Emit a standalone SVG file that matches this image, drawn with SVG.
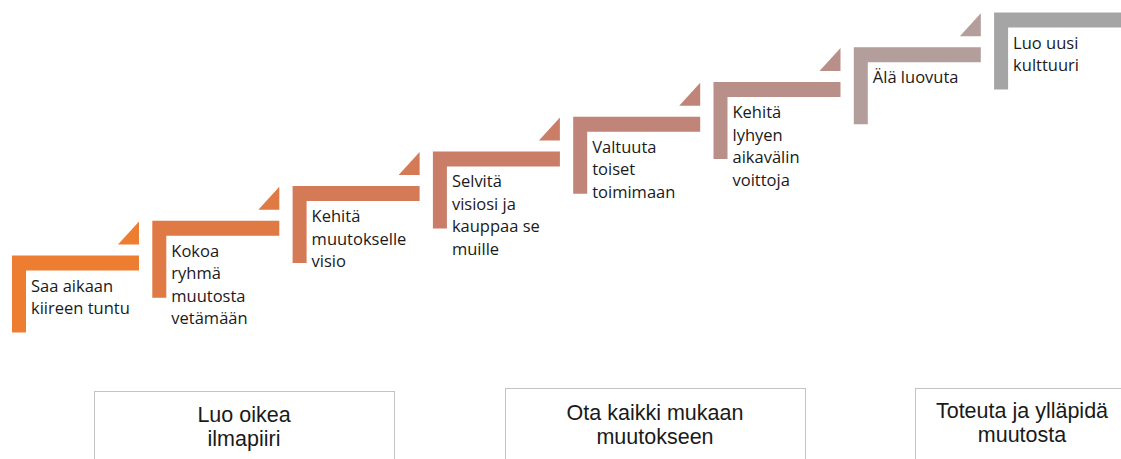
<svg xmlns="http://www.w3.org/2000/svg" xmlns:xlink="http://www.w3.org/1999/xlink" width="1121" height="459" viewBox="0 0 1121 459">
  <style>
    .step-label { font-family: "Open Sans", "Liberation Sans", sans-serif; font-size: 16.5px; fill: #1a1a1a; }
    .phase-box { fill: #ffffff; stroke: #c4c4c4; stroke-width: 1; }
    .phase-label { font-family: "Liberation Sans", Arial, sans-serif; font-size: 21.5px; fill: #1a1a1a; text-anchor: middle; }
  </style>
  <defs>
    <!-- L-shaped stair step: horizontal tread with a vertical riser on the left -->
    <path id="step" d="M0,0 H127 V15 H14 V77 H0 Z"/>
    <!-- small corner triangle pointing up to the next step -->
    <path id="notch" d="M106,-11 H127 V-34 Z"/>
  </defs>

  <rect width="1121" height="459" fill="#ffffff"/>

  <!-- staircase -->
  <g id="step1" transform="translate(12,255.5)" fill="#ed7d31">
    <use xlink:href="#step"/><use xlink:href="#notch"/>
    <text class="step-label" x="19" y="36">Saa aikaan</text>
    <text class="step-label" x="19" y="58.5">kiireen tuntu</text>
  </g>
  <g id="step2" transform="translate(152.3,220.8)" fill="#e07a44">
    <use xlink:href="#step"/><use xlink:href="#notch"/>
    <text class="step-label" x="19" y="36">Kokoa</text>
    <text class="step-label" x="19" y="58.5">ryhmä</text>
    <text class="step-label" x="19" y="81">muutosta</text>
    <text class="step-label" x="19" y="103.5">vetämään</text>
  </g>
  <g id="step3" transform="translate(292.6,186.1)" fill="#d57a56">
    <use xlink:href="#step"/><use xlink:href="#notch"/>
    <text class="step-label" x="19" y="36">Kehitä</text>
    <text class="step-label" x="19" y="58.5">muutokselle</text>
    <text class="step-label" x="19" y="81">visio</text>
  </g>
  <g id="step4" transform="translate(432.9,151.4)" fill="#ca7e68">
    <use xlink:href="#step"/><use xlink:href="#notch"/>
    <text class="step-label" x="19" y="36">Selvitä</text>
    <text class="step-label" x="19" y="58.5">visiosi ja</text>
    <text class="step-label" x="19" y="81">kauppaa  se</text>
    <text class="step-label" x="19" y="103.5">muille</text>
  </g>
  <g id="step5" transform="translate(573.2,116.7)" fill="#c08478">
    <use xlink:href="#step"/><use xlink:href="#notch"/>
    <text class="step-label" x="19" y="36">Valtuuta</text>
    <text class="step-label" x="19" y="58.5">toiset</text>
    <text class="step-label" x="19" y="81">toimimaan</text>
  </g>
  <g id="step6" transform="translate(713.5,82)" fill="#b98f89">
    <use xlink:href="#step"/><use xlink:href="#notch"/>
    <text class="step-label" x="19" y="36">Kehitä</text>
    <text class="step-label" x="19" y="58.5">lyhyen</text>
    <text class="step-label" x="19" y="81">aikavälin</text>
    <text class="step-label" x="19" y="103.5">voittoja</text>
  </g>
  <g id="step7" transform="translate(853.8,47.3)" fill="#b39e9c">
    <use xlink:href="#step"/><use xlink:href="#notch"/>
    <text class="step-label" x="19" y="36">Älä luovuta</text>
  </g>
  <g id="step8" transform="translate(994.1,12.6)" fill="#a5a5a5">
    <use xlink:href="#step"/>
    <text class="step-label" x="19" y="36">Luo uusi</text>
    <text class="step-label" x="19" y="58.5">kulttuuri</text>
  </g>

  <!-- phase boxes -->
  <g id="phase1">
    <rect class="phase-box" x="94.5" y="391.5" width="300" height="100"/>
    <text class="phase-label" x="244" y="421.5">Luo oikea</text>
    <text class="phase-label" x="244" y="445.5">ilmapiiri</text>
  </g>
  <g id="phase2">
    <rect class="phase-box" x="505.5" y="388.5" width="300" height="100"/>
    <text class="phase-label" x="655" y="419.5">Ota kaikki mukaan</text>
    <text class="phase-label" x="655" y="443.5">muutokseen</text>
  </g>
  <g id="phase3">
    <rect class="phase-box" x="915.5" y="388.5" width="300" height="100"/>
    <text class="phase-label" x="1022" y="418">Toteuta ja ylläpidä</text>
    <text class="phase-label" x="1022" y="442">muutosta</text>
  </g>

  <g id="connectors"/>
</svg>
